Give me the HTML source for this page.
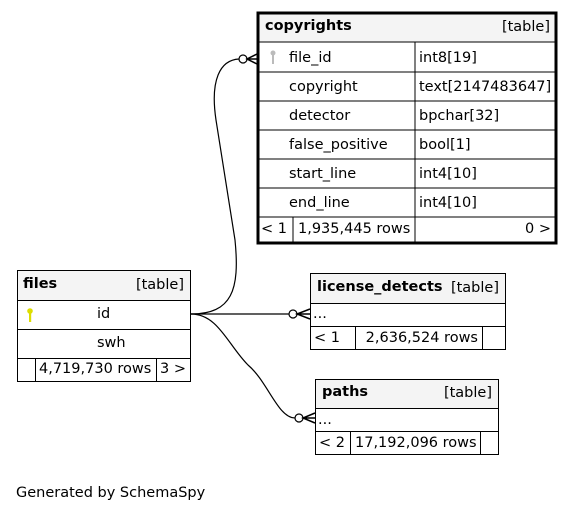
<!DOCTYPE html>
<html><head><meta charset="utf-8"><style>
html,body{margin:0;padding:0;background:#fff;}
svg{display:block;}
text{font-family:"DejaVu Sans","Liberation Sans",sans-serif;font-size:14.5px;fill:#000;}
.b{font-weight:bold;}
</style></head><body>
<svg width="575" height="511" viewBox="0 0 575 511" xmlns="http://www.w3.org/2000/svg">
<!-- edges -->
<g fill="none" stroke="#000" stroke-width="1.2">
<path d="M191,314 C232,314 240,290 235,240 L216,120 C210,80 220,60 239,59"/>
<path d="M191,314 L289,314"/>
<path d="M191,314 C218,314 228,345 248,365 C268,382 278,418 295,418"/>
</g>
<g fill="#fff" stroke="#000" stroke-width="1.2">
<circle cx="243" cy="59" r="4"/>
<circle cx="293" cy="314" r="4"/>
<circle cx="299" cy="418" r="4"/>
</g>
<g fill="none" stroke="#000" stroke-width="1.5">
<path d="M257,54 L247,59 L257,64 M247,59 L257,59"/>
<path d="M310,309 L297,314 L310,319 M297,314 L310,314"/>
<path d="M315,413 L303,418 L315,423 M303,418 L315,418"/>
</g>

<!-- copyrights -->
<rect x="258" y="13" width="298" height="230" fill="#fff" stroke="#000" stroke-width="3"/>
<rect x="259.5" y="14.5" width="295" height="27.5" fill="#f4f4f4"/>
<g stroke="#000" stroke-width="1" fill="none">
<line x1="258" y1="42" x2="556" y2="42"/>
<line x1="258" y1="72" x2="556" y2="72"/>
<line x1="258" y1="101" x2="556" y2="101"/>
<line x1="258" y1="130" x2="556" y2="130"/>
<line x1="258" y1="159" x2="556" y2="159"/>
<line x1="258" y1="188" x2="556" y2="188"/>
<line x1="258" y1="217" x2="556" y2="217"/>
<line x1="415" y1="42" x2="415" y2="243"/>
<line x1="293" y1="217" x2="293" y2="243"/>
</g>
<text x="265" y="30" class="b">copyrights</text>
<text x="550" y="31" text-anchor="end">[table]</text>
<g fill="#bbb"><circle cx="273" cy="53" r="2.5"/><rect x="272" y="54" width="2" height="10"/></g>
<text x="289" y="62">file_id</text><text x="419" y="62">int8[19]</text>
<text x="289" y="91">copyright</text><text x="419" y="91">text[2147483647]</text>
<text x="289" y="120">detector</text><text x="419" y="120">bpchar[32]</text>
<text x="289" y="149">false_positive</text><text x="419" y="149">bool[1]</text>
<text x="289" y="178">start_line</text><text x="419" y="178">int4[10]</text>
<text x="289" y="207">end_line</text><text x="419" y="207">int4[10]</text>
<text x="261" y="233">&lt; 1</text><text x="298" y="233">1,935,445 rows</text><text x="551" y="233" text-anchor="end">0 &gt;</text>

<!-- files -->
<rect x="17.5" y="270.5" width="173" height="111" fill="#fff" stroke="#000"/>
<rect x="18" y="271" width="172" height="29" fill="#f4f4f4"/>
<g stroke="#000" fill="none">
<line x1="17" y1="300.5" x2="191" y2="300.5"/>
<line x1="17" y1="329.5" x2="191" y2="329.5"/>
<line x1="17" y1="358.5" x2="191" y2="358.5"/>
<line x1="35.5" y1="358" x2="35.5" y2="382"/>
<line x1="156.5" y1="358" x2="156.5" y2="382"/>
</g>
<text x="23" y="288" class="b">files</text>
<text x="184" y="289" text-anchor="end">[table]</text>
<g fill="#dddd00"><circle cx="30" cy="311" r="2.8"/><rect x="29" y="312" width="2.2" height="10"/></g>
<text x="97" y="318">id</text>
<text x="97" y="347">swh</text>
<text x="39" y="373">4,719,730 rows</text><text x="160" y="373">3 &gt;</text>

<!-- license_detects -->
<rect x="310.5" y="273.5" width="195" height="76" fill="#fff" stroke="#000"/>
<rect x="311" y="274" width="194" height="29" fill="#f4f4f4"/>
<g stroke="#000" fill="none">
<line x1="310" y1="303.5" x2="506" y2="303.5"/>
<line x1="310" y1="326.5" x2="506" y2="326.5"/>
<line x1="355.5" y1="326" x2="355.5" y2="350"/>
<line x1="482.5" y1="326" x2="482.5" y2="350"/>
</g>
<text x="317" y="291" class="b">license_detects</text>
<text x="499" y="292" text-anchor="end">[table]</text>
<text x="313" y="318">...</text>
<text x="314" y="342">&lt; 1</text><text x="478" y="342" text-anchor="end">2,636,524 rows</text>

<!-- paths -->
<rect x="315.5" y="379.5" width="183" height="75" fill="#fff" stroke="#000"/>
<rect x="316" y="380" width="182" height="28" fill="#f4f4f4"/>
<g stroke="#000" fill="none">
<line x1="315" y1="408.5" x2="499" y2="408.5"/>
<line x1="315" y1="431.5" x2="499" y2="431.5"/>
<line x1="350.5" y1="431" x2="350.5" y2="455"/>
<line x1="480.5" y1="431" x2="480.5" y2="455"/>
</g>
<text x="322" y="396" class="b">paths</text>
<text x="492" y="397" text-anchor="end">[table]</text>
<text x="318" y="424">...</text>
<text x="319" y="447">&lt; 2</text><text x="355" y="447">17,192,096 rows</text>

<text x="16" y="497">Generated by SchemaSpy</text>
</svg>
</body></html>
